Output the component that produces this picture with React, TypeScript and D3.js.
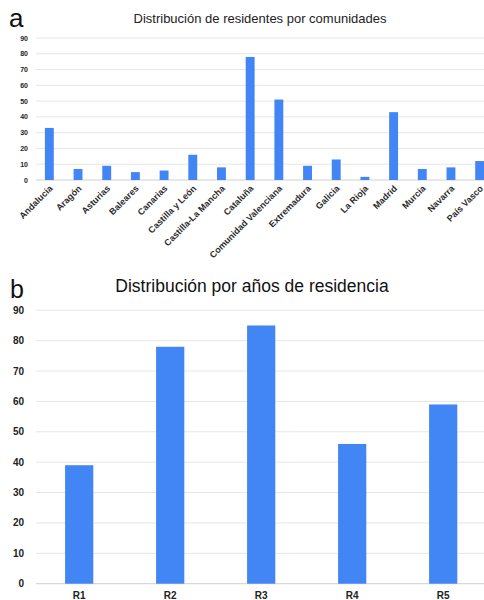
import React, { useEffect, useRef } from 'react';
import * as d3 from 'd3';

const comunidades = [
    'Andalucia', 'Aragón', 'Asturias', 'Baleares', 'Canarias', 'Castilla y León',
    'Castilla-La Mancha', 'Cataluña', 'Comunidad Valenciana', 'Extremadura', 'Galicia',
    'La Rioja', 'Madrid', 'Murcia', 'Navarra', 'País Vasco'
];
const residentes = [33, 7, 9, 5, 6, 16, 8, 78, 51, 9, 13, 2, 43, 7, 8, 12];

const rangos = ['R1', 'R2', 'R3', 'R4', 'R5'];
const anios = [39, 78, 85, 46, 59];

const yTicks = [0, 10, 20, 30, 40, 50, 60, 70, 80, 90];

const WIDTH = 484;
const HEIGHT = 600;
const BAR = '#4285f4';
const GRID = '#e6e6e6';
const FONT = 'Liberation Sans, Arial, sans-serif';

const App = () => {
    const ref = useRef<SVGSVGElement>(null);

    useEffect(() => {
        const svg = d3.select(ref.current);
        svg.selectAll('*').remove();

        // ---- chart a
        const xA = d3.scaleBand().domain(comunidades).range([35, 494]).paddingInner(0.69).paddingOuter(0.345);
        const yA = d3.scaleLinear().domain([0, 90]).range([180, 38]);

        const gA = svg.append('g');
        gA.selectAll('line.grid')
            .data(yTicks)
            .enter().append('line')
            .attr('x1', 36).attr('x2', WIDTH)
            .attr('y1', d => yA(d)).attr('y2', d => yA(d))
            .attr('stroke', d => d === 0 ? '#cfcfcf' : GRID)
            .attr('stroke-width', 1);
        gA.selectAll('text.tick')
            .data(yTicks)
            .enter().append('text')
            .attr('x', 28).attr('y', d => yA(d) + 2.5)
            .attr('text-anchor', 'end')
            .style('font-size', '7px').style('font-weight', 'bold').style('fill', '#222')
            .text(d => d);
        gA.selectAll('rect')
            .data(residentes)
            .enter().append('rect')
            .attr('x', (d, i) => xA(comunidades[i])!)
            .attr('width', xA.bandwidth())
            .attr('y', d => yA(d))
            .attr('height', d => yA(0) - yA(d))
            .attr('fill', BAR);
        gA.selectAll('text.lab')
            .data(comunidades)
            .enter().append('text')
            .attr('text-anchor', 'end')
            .attr('transform', d => `translate(${xA(d)! + xA.bandwidth() / 2 + 4},${189}) rotate(-45)`)
            .style('font-size', '9px').style('font-weight', 'bold').style('fill', '#2a2a2a')
            .text(d => d);
        gA.append('text')
            .attr('x', 260).attr('y', 23)
            .attr('text-anchor', 'middle')
            .style('font-size', '13px').style('fill', '#222')
            .text('Distribución de residentes por comunidades');
        gA.append('text')
            .attr('x', 9).attr('y', 27)
            .style('font-size', '26px').style('fill', '#111')
            .text('a');

        // ---- chart b
        const xB = d3.scaleBand().domain(rangos).range([33.7, 488.7]).paddingInner(0.69).paddingOuter(0.345);
        const yB = d3.scaleLinear().domain([0, 90]).range([583.7, 310.3]);

        const gB = svg.append('g');
        gB.selectAll('line.grid')
            .data(yTicks)
            .enter().append('line')
            .attr('x1', 36).attr('x2', WIDTH)
            .attr('y1', d => yB(d)).attr('y2', d => yB(d))
            .attr('stroke', d => d === 0 ? '#cfcfcf' : GRID)
            .attr('stroke-width', 1);
        gB.selectAll('text.tick')
            .data(yTicks)
            .enter().append('text')
            .attr('x', 24).attr('y', d => yB(d) + 3.5)
            .attr('text-anchor', 'end')
            .style('font-size', '10px').style('font-weight', 'bold').style('fill', '#222')
            .text(d => d);
        gB.selectAll('rect')
            .data(anios)
            .enter().append('rect')
            .attr('x', (d, i) => xB(rangos[i])!)
            .attr('width', xB.bandwidth())
            .attr('y', d => yB(d))
            .attr('height', d => yB(0) - yB(d))
            .attr('fill', BAR);
        gB.selectAll('text.lab')
            .data(rangos)
            .enter().append('text')
            .attr('x', d => xB(d)! + xB.bandwidth() / 2)
            .attr('y', 599)
            .attr('text-anchor', 'middle')
            .style('font-size', '10px').style('font-weight', 'bold').style('fill', '#222')
            .text(d => d);
        gB.append('text')
            .attr('x', 252).attr('y', 292)
            .attr('text-anchor', 'middle')
            .style('font-size', '17.5px').style('fill', '#111')
            .text('Distribución por años de residencia');
        gB.append('text')
            .attr('x', 10).attr('y', 298)
            .style('font-size', '25px').style('fill', '#111')
            .text('b');
    }, []);

    return (
        <svg ref={ref} width={WIDTH} height={HEIGHT}
            style={{ position: 'absolute', left: 0, top: 0, fontFamily: FONT, background: '#fff' }} />
    );
};

export default App;
